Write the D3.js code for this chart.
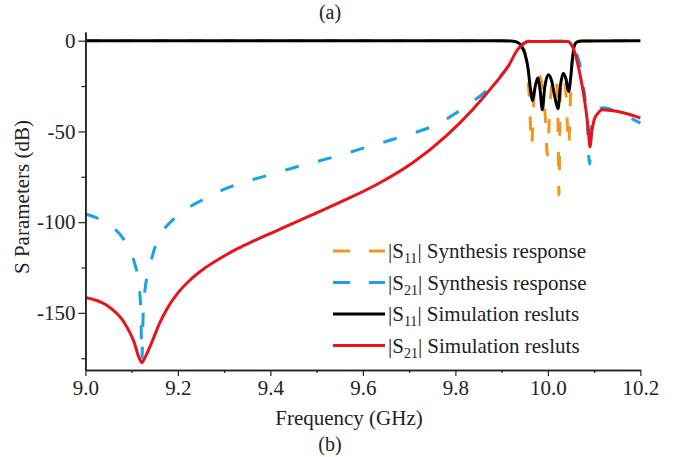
<!DOCTYPE html>
<html><head><meta charset="utf-8">
<script src="https://cdn.jsdelivr.net/npm/d3@7/dist/d3.min.js"></script>
<style>body{margin:0;background:#fff}svg{display:block}text{font-family:"Liberation Serif","Times New Roman",serif;fill:#222}</style>
</head><body><svg id="c" width="675" height="457"></svg>
<script>
// ---- data ----
const s11SynF = [9.00,9.50,9.90,9.930,9.940,9.950,9.956,9.960,9.965,9.969,9.974,9.980,9.987,9.994,9.999,10.004,10.010,10.016,10.021,10.024,10.027,10.033,10.039,10.045,10.050,10.055,10.060,10.070,10.20];
const s11SynDb = [0,0,-0.1,-0.4,-1.5,-6,-18,-32,-58,-34,-22,-19,-24,-40,-63,-38,-22,-19,-30,-85,-30,-19.5,-29,-58,-22,-5,-1,-0.2,0];

const s21SynF = [9.00,9.032,9.06,9.083,9.100,9.108,9.116,9.120,9.122,9.125,9.130,9.136,9.154,9.17,9.190,9.22,9.255,9.29,9.327,9.40,9.45,9.53,9.614,9.686,9.758,9.822,9.880,9.923,9.937,9.950,9.960,10.040,10.050,10.059,10.077,10.085,10.090,10.095,10.105,10.120,10.160,10.20];
const s21SynDb = [-95.5,-98.5,-103,-109.5,-118,-124,-135,-150,-176,-150,-135,-127.8,-111.3,-104,-98.5,-92.5,-87.5,-83,-79.3,-73.8,-70,-64.6,-58.2,-52.7,-46.3,-36.3,-24.3,-10.6,-4.2,-1,-0.2,-0.2,-1,-5,-25,-45,-68,-45,-38.5,-37,-40.5,-45.4];

const s11SimF = [9.00,9.50,9.90,9.925,9.935,9.943,9.950,9.957,9.962,9.967,9.972,9.978,9.983,9.988,9.993,10.001,10.008,10.015,10.022,10.027,10.033,10.039,10.045,10.049,10.053,10.057,10.062,10.075,10.20];
const s11SimDb = [0,0,0,-0.3,-1,-3,-7,-15,-26,-33,-26,-20.5,-27,-38,-26,-18.8,-22,-31,-37.5,-25,-18,-21,-28,-21,-10,-3,-0.8,-0.1,0];

const s21SimF = [9.00,9.047,9.083,9.105,9.115,9.122,9.130,9.144,9.160,9.176,9.20,9.226,9.26,9.291,9.33,9.363,9.42,9.49,9.564,9.636,9.707,9.779,9.837,9.880,9.916,9.934,9.948,9.958,10.00,10.044,10.050,10.055,10.069,10.080,10.087,10.091,10.095,10.100,10.108,10.118,10.138,10.167,10.20];
const s21SimDb = [-141.5,-146,-155,-166,-174,-177.5,-174,-166,-156,-148,-139,-132,-125,-120,-114.5,-110.5,-104,-96,-87.5,-78.4,-67.4,-52.7,-38,-25.3,-13.4,-5.1,-1.5,-0.5,-0.4,-0.5,-2,-4.2,-18,-34,-48,-58.5,-50,-43.6,-40,-38,-38.5,-40,-42.6];

const xTicks = [9.0,9.2,9.4,9.6,9.8,10.0,10.2];
const xMinor = [9.1,9.3,9.5,9.7,9.9,10.1];
const yTicks = [0,-50,-100,-150];
const yMinor = [-25,-75,-125,-175];
const legendLabels = [["|S","11","| Synthesis response"],["|S","21","| Synthesis response"],["|S","11","| Simulation resluts"],["|S","21","| Simulation resluts"]];
const seriesColors = ["#F7941D","#1BA1E6","#000000","#E8141B"];

// ---- drawing ----
const svg = d3.select("#c");
const x = d3.scaleLinear().domain([9.0,10.2]).range([85.4,640.4]);
const y = d3.scaleLinear().domain([-181.5,4.8]).range([370,32]);

const series = [
  {f:s11SynF, v:s11SynDb, dash:"14,20"},
  {f:s21SynF, v:s21SynDb, dash:"14,20"},
  {f:s11SimF, v:s11SimDb, dash:null},
  {f:s21SimF, v:s21SimDb, dash:null}
];
const line = d3.line().x(d=>x(d[0])).y(d=>y(d[1])).curve(d3.curveMonotoneX);
const g = svg.append("g");
series.forEach((s,i)=>{
  const pts = s.f.map((f,j)=>[f,s.v[j]]);
  g.append("path").attr("d",line(pts)).attr("fill","none")
   .attr("stroke",seriesColors[i]).attr("stroke-width",3)
   .attr("stroke-linejoin","round")
   .attr("stroke-dasharray",s.dash);
});

// axes
const fmtX = d3.format(".1f");
const ax = svg.append("g").attr("transform","translate(0,370)")
  .call(d3.axisBottom(x).tickValues(xTicks).tickFormat(fmtX).tickSize(6).tickSizeOuter(0).tickPadding(4));
svg.append("g").attr("transform","translate(0,370)")
  .call(d3.axisBottom(x).tickValues(xMinor).tickFormat("").tickSize(3).tickSizeOuter(0));
const ay = svg.append("g").attr("transform","translate(85.4,0)")
  .call(d3.axisLeft(y).tickValues(yTicks).tickFormat(d=>d).tickSize(7).tickSizeOuter(0).tickPadding(3));
svg.append("g").attr("transform","translate(85.4,0)")
  .call(d3.axisLeft(y).tickValues(yMinor).tickFormat("").tickSize(4).tickSizeOuter(0));
svg.selectAll(".domain").attr("stroke","#222").attr("stroke-width",1.5);
svg.selectAll(".tick line").attr("stroke","#222").attr("stroke-width",1.2);
svg.selectAll(".tick text").attr("font-family","Liberation Serif").attr("font-size",21).attr("fill","#222");

// labels
svg.append("text").attr("x",349).attr("y",425).attr("text-anchor","middle").attr("font-size",21).text("Frequency (GHz)");
svg.append("text").attr("transform","translate(29,197) rotate(-90)").attr("text-anchor","middle").attr("font-size",21).text("S Parameters (dB)");
svg.append("text").attr("x",330).attr("y",451).attr("text-anchor","middle").attr("font-size",20).text("(b)");
svg.append("text").attr("x",330).attr("y",19).attr("text-anchor","middle").attr("font-size",20).text("(a)");

// legend
const legY = [251,282.5,314,345.5];
legendLabels.forEach((lab,i)=>{
  svg.append("line").attr("x1",333).attr("x2",385).attr("y1",legY[i]).attr("y2",legY[i])
    .attr("stroke",seriesColors[i]).attr("stroke-width",3)
    .attr("stroke-dasharray", i<2 ? "17,19" : null);
  const t = svg.append("text").attr("x",388).attr("y",legY[i]+7).attr("font-size",21);
  t.append("tspan").text(lab[0]);
  t.append("tspan").attr("dy",5).attr("font-size",14).text(lab[1]);
  t.append("tspan").attr("dy",-5).text(lab[2]);
});
</script></body></html>
